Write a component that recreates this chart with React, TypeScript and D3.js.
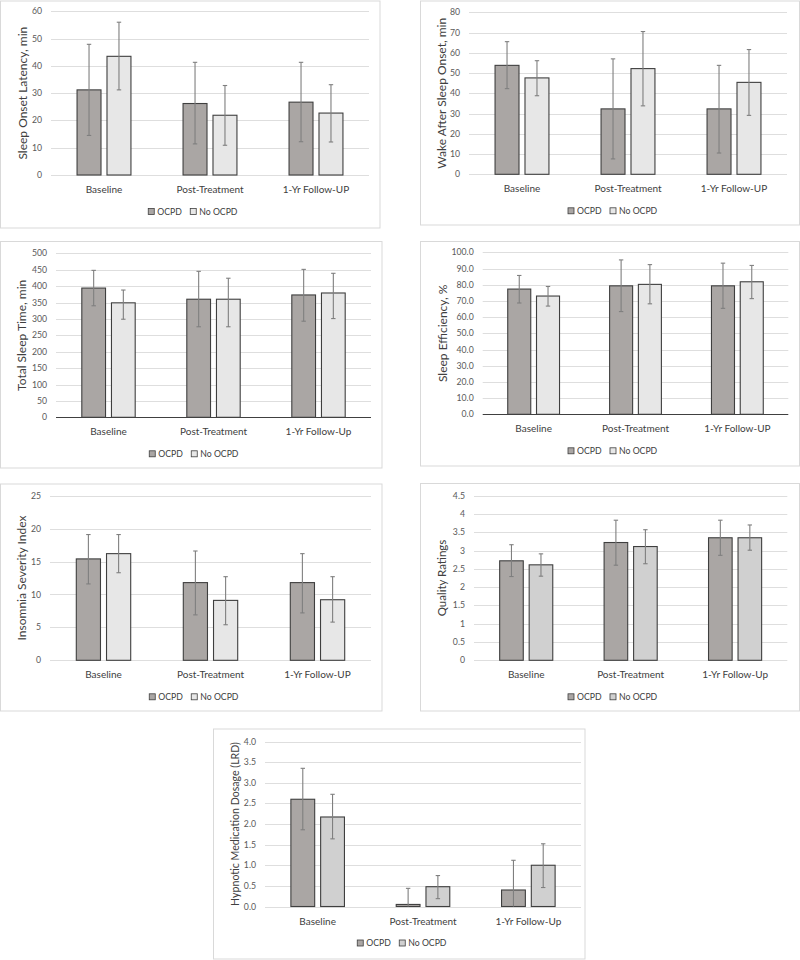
import React from "react";
import * as d3 from "d3";

// ---------- data ----------
const categoriesUP = ["Baseline", "Post-Treatment", "1-Yr Follow-UP"];
const categoriesUp = ["Baseline", "Post-Treatment", "1-Yr Follow-Up"];
const seriesNames = ["OCPD", "No OCPD"];

// Sleep Onset Latency
const solOcpd = [31.2, 26.2, 26.7];
const solOcpdLo = [14.5, 11.4, 12.2];
const solOcpdHi = [47.9, 41.3, 41.3];
const solNo = [43.5, 21.9, 22.7];
const solNoLo = [31.2, 10.9, 12.1];
const solNoHi = [56.0, 32.8, 33.1];

// Wake After Sleep Onset
const wasoOcpd = [53.8, 32.3, 32.3];
const wasoOcpdLo = [42.3, 7.6, 10.5];
const wasoOcpdHi = [65.5, 57.0, 53.8];
const wasoNo = [47.6, 52.2, 45.4];
const wasoNoLo = [38.8, 33.8, 29.1];
const wasoNoHi = [56.1, 70.5, 61.6];

// Total Sleep Time
const tstOcpd = [394, 360, 373];
const tstOcpdLo = [340, 276, 293];
const tstOcpdHi = [448, 445, 451];
const tstNo = [349, 360, 379];
const tstNoLo = [299, 276, 301];
const tstNoHi = [388, 424, 439];

// Sleep Efficiency
const seOcpd = [77.3, 79.3, 79.3];
const seOcpdLo = [68.7, 63.4, 65.4];
const seOcpdHi = [85.7, 95.3, 93.3];
const seNo = [73.0, 80.2, 81.8];
const seNoLo = [66.8, 68.2, 71.4];
const seNoHi = [78.9, 92.4, 91.9];

// Insomnia Severity Index
const isiOcpd = [15.4, 11.8, 11.8];
const isiOcpdLo = [11.6, 6.9, 7.2];
const isiOcpdHi = [19.1, 16.6, 16.2];
const isiNo = [16.2, 9.1, 9.2];
const isiNoLo = [13.3, 5.4, 5.8];
const isiNoHi = [19.1, 12.7, 12.7];

// Quality Ratings
const qrOcpd = [2.72, 3.22, 3.35];
const qrOcpdLo = [2.29, 2.6, 2.87];
const qrOcpdHi = [3.16, 3.83, 3.83];
const qrNo = [2.61, 3.11, 3.35];
const qrNoLo = [2.3, 2.64, 3.01];
const qrNoHi = [2.91, 3.57, 3.7];

// Hypnotic Medication Dosage
const hmdOcpd = [2.6, 0.05, 0.4];
const hmdOcpdLo = [1.86, 0, 0];
const hmdOcpdHi = [3.35, 0.44, 1.12];
const hmdNo = [2.17, 0.48, 1.0];
const hmdNoLo = [1.64, 0.19, 0.46];
const hmdNoHi = [2.72, 0.75, 1.52];

// axis ticks
const solTicks = [0, 10, 20, 30, 40, 50, 60];
const wasoTicks = [0, 10, 20, 30, 40, 50, 60, 70, 80];
const tstTicks = [0, 50, 100, 150, 200, 250, 300, 350, 400, 450, 500];
const seTicks = [0, 10, 20, 30, 40, 50, 60, 70, 80, 90, 100];
const isiTicks = [0, 5, 10, 15, 20, 25];
const qrTicks = [0, 0.5, 1, 1.5, 2, 2.5, 3, 3.5, 4, 4.5];
const hmdTicks = [0, 0.5, 1, 1.5, 2, 2.5, 3, 3.5, 4];

// ---------- styles ----------
const FONT = "Lato, 'Open Sans', sans-serif";
const OCPD_FILL = "#aaa6a4";
const NO_FILL_LIGHT = "#e7e7e7";
const NO_FILL_MID = "#d0d0d0";
const BAR_STROKE = "#3f3f3f";
const ERR = "#7f7f7f";
const GRID = "#dedede";
const BORDER = "#d9d9d9";

type PanelCfg = {
  box: [number, number, number, number];
  plot: [number, number, number, number]; // left, right, top, bottom
  title: string;
  titleX: number;
  titleSize: number;
  categories: string[];
  ticks: number[];
  fmt: (v: number) => string;
  ocpd: number[];
  ocpdLo: number[];
  ocpdHi: number[];
  no: number[];
  noLo: number[];
  noHi: number[];
  noFill: string;
  darkBase: boolean;
};

const fmtInt = d3.format("d");
const fmt1 = d3.format(".1f");
const fmtGen = (v: number) => String(v);

const panels: PanelCfg[] = [
  {
    box: [0.5, 1, 380, 228],
    plot: [51, 369, 11.3, 175],
    title: "Sleep Onset Latency, min",
    titleX: 23,
    titleSize: 12,
    categories: categoriesUP,
    ticks: solTicks,
    fmt: fmtInt,
    ocpd: solOcpd, ocpdLo: solOcpdLo, ocpdHi: solOcpdHi,
    no: solNo, noLo: solNoLo, noHi: solNoHi,
    noFill: NO_FILL_LIGHT,
    darkBase: false,
  },
  {
    box: [420.5, 1, 799.5, 225],
    plot: [469, 787, 12.3, 174.3],
    title: "Wake After Sleep Onset, min",
    titleX: 442,
    titleSize: 12,
    categories: categoriesUP,
    ticks: wasoTicks,
    fmt: fmtInt,
    ocpd: wasoOcpd, ocpdLo: wasoOcpdLo, ocpdHi: wasoOcpdHi,
    no: wasoNo, noLo: wasoNoLo, noHi: wasoNoHi,
    noFill: NO_FILL_LIGHT,
    darkBase: false,
  },
  {
    box: [0.5, 241.5, 382, 468],
    plot: [56, 371, 253.3, 417.3],
    title: "Total Sleep Time,  min",
    titleX: 22,
    titleSize: 12,
    categories: categoriesUp,
    ticks: tstTicks,
    fmt: fmtInt,
    ocpd: tstOcpd, ocpdLo: tstOcpdLo, ocpdHi: tstOcpdHi,
    no: tstNo, noLo: tstNoLo, noHi: tstNoHi,
    noFill: NO_FILL_LIGHT,
    darkBase: true,
  },
  {
    box: [420.5, 241.5, 799.5, 466],
    plot: [482.7, 788.3, 252.3, 414.3],
    title: "Sleep Efficiency, %",
    titleX: 443,
    titleSize: 12,
    categories: categoriesUP,
    ticks: seTicks,
    fmt: fmt1,
    ocpd: seOcpd, ocpdLo: seOcpdLo, ocpdHi: seOcpdHi,
    no: seNo, noLo: seNoLo, noHi: seNoHi,
    noFill: NO_FILL_LIGHT,
    darkBase: true,
  },
  {
    box: [0.5, 484, 382, 711],
    plot: [50, 371, 495.7, 660.3],
    title: "Insomnia Severity Index",
    titleX: 22,
    titleSize: 12,
    categories: categoriesUP,
    ticks: isiTicks,
    fmt: fmtInt,
    ocpd: isiOcpd, ocpdLo: isiOcpdLo, ocpdHi: isiOcpdHi,
    no: isiNo, noLo: isiNoLo, noHi: isiNoHi,
    noFill: NO_FILL_LIGHT,
    darkBase: false,
  },
  {
    box: [420.5, 483.5, 799.5, 711],
    plot: [474, 787.3, 495.7, 660.3],
    title: "Quality Ratings",
    titleX: 442,
    titleSize: 11.5,
    categories: categoriesUp,
    ticks: qrTicks,
    fmt: fmtGen,
    ocpd: qrOcpd, ocpdLo: qrOcpdLo, ocpdHi: qrOcpdHi,
    no: qrNo, noLo: qrNoLo, noHi: qrNoHi,
    noFill: NO_FILL_MID,
    darkBase: false,
  },
  {
    box: [213.5, 729, 585, 959],
    plot: [265, 581, 741.5, 906.5],
    title: "Hypnotic Medication Dosage (LRD)",
    titleX: 235,
    titleSize: 10.6,
    categories: categoriesUp,
    ticks: hmdTicks,
    fmt: fmt1,
    ocpd: hmdOcpd, ocpdLo: hmdOcpdLo, ocpdHi: hmdOcpdHi,
    no: hmdNo, noLo: hmdNoLo, noHi: hmdNoHi,
    noFill: NO_FILL_MID,
    darkBase: false,
  },
];

function Panel({ cfg }: { cfg: PanelCfg }) {
  const [bx0, by0, bx1, by1] = cfg.box;
  const [left, right, top, bottom] = cfg.plot;
  const maxV = cfg.ticks[cfg.ticks.length - 1];
  const y = d3.scaleLinear().domain([0, maxV]).range([bottom, top]);
  const x0 = d3.scaleBand<string>().domain(cfg.categories).range([left, right]).paddingInner(0).paddingOuter(0);
  const x1 = d3
    .scaleBand<string>()
    .domain(seriesNames)
    .range([0, x0.bandwidth()])
    .paddingInner(0.2)
    .paddingOuter(0.87);
  const fills = [OCPD_FILL, cfg.noFill];
  const vals = [cfg.ocpd, cfg.no];
  const los = [cfg.ocpdLo, cfg.noLo];
  const his = [cfg.ocpdHi, cfg.noHi];
  const titleY = (top + bottom) / 2;
  const legendCx = (bx0 + bx1) / 2 + 3;
  const legendY = bottom + 36.5;

  return (
    <g>
      <rect x={bx0} y={by0} width={bx1 - bx0} height={by1 - by0} fill="#fff" stroke={BORDER} strokeWidth={1} />
      {cfg.ticks.map((t) => (
        <g key={t}>
          {t !== 0 || !cfg.darkBase ? (
            <line x1={left} x2={right} y1={Math.round(y(t)) + 0.5} y2={Math.round(y(t)) + 0.5} stroke={GRID} strokeWidth={1} />
          ) : null}
          <text
            x={left - 9}
            y={y(t)}
            dy="0.35em"
            textAnchor="end"
            fontFamily={FONT}
            fontSize={8.7}
            fill="#595959"
          >
            {cfg.fmt(t)}
          </text>
        </g>
      ))}
      {cfg.categories.map((c, i) => {
        const bx = x0(c)!;
        return (
          <g key={c}>
            {seriesNames.map((s, k) => {
              const xx = bx + x1(s)!;
              const w = x1.bandwidth();
              const v = vals[k][i];
              const cx = xx + w / 2;
              return (
                <g key={s}>
                  <rect x={xx} y={y(v)} width={w} height={y(0) - y(v)} fill={fills[k]} stroke={BAR_STROKE} strokeWidth={1.1} />
                  <line x1={cx} x2={cx} y1={y(his[k][i])} y2={y(los[k][i])} stroke={ERR} strokeWidth={1.1} />
                  <line x1={cx - 2.2} x2={cx + 2.2} y1={y(his[k][i])} y2={y(his[k][i])} stroke={ERR} strokeWidth={1.1} />
                  {los[k][i] > 0 ? (
                    <line x1={cx - 2.2} x2={cx + 2.2} y1={y(los[k][i])} y2={y(los[k][i])} stroke={ERR} strokeWidth={1.1} />
                  ) : null}
                </g>
              );
            })}
            <text
              x={bx + x0.bandwidth() / 2}
              y={bottom + 14.5}
              dy="0.35em"
              textAnchor="middle"
              fontFamily={FONT}
              fontSize={10}
              fill="#404040"
            >
              {c}
            </text>
          </g>
        );
      })}
      {cfg.darkBase ? (
        <line x1={left} x2={right} y1={Math.round(y(0)) + 0.5} y2={Math.round(y(0)) + 0.5} stroke="#404040" strokeWidth={1} />
      ) : null}
      <text
        transform={`translate(${cfg.titleX},${titleY}) rotate(-90)`}
        textAnchor="middle"
        dy="0.35em"
        fontFamily={FONT}
        fontSize={cfg.titleSize}
        fill="#404040"
      >
        {cfg.title}
      </text>
      <g transform={`translate(${legendCx},${legendY})`}>
        <rect x={-45} y={-3} width={6} height={6} fill={OCPD_FILL} stroke={BAR_STROKE} strokeWidth={0.8} />
        <text x={-36} y={0} dy="0.35em" fontFamily={FONT} fontSize={8.7} fill="#404040">
          {seriesNames[0]}
        </text>
        <rect x={-3} y={-3} width={6} height={6} fill={cfg.noFill} stroke={BAR_STROKE} strokeWidth={0.8} />
        <text x={6} y={0} dy="0.35em" fontFamily={FONT} fontSize={8.7} fill="#404040">
          {seriesNames[1]}
        </text>
      </g>
    </g>
  );
}

export default function App() {
  return (
    <svg
      width={800}
      height={960}
      viewBox="0 0 800 960"
      style={{ position: "absolute", left: 0, top: 0, background: "#fff" }}
    >
      <rect x={0} y={0} width={800} height={960} fill="#fff" />
      {panels.map((p, i) => (
        <Panel key={i} cfg={p} />
      ))}
    </svg>
  );
}
